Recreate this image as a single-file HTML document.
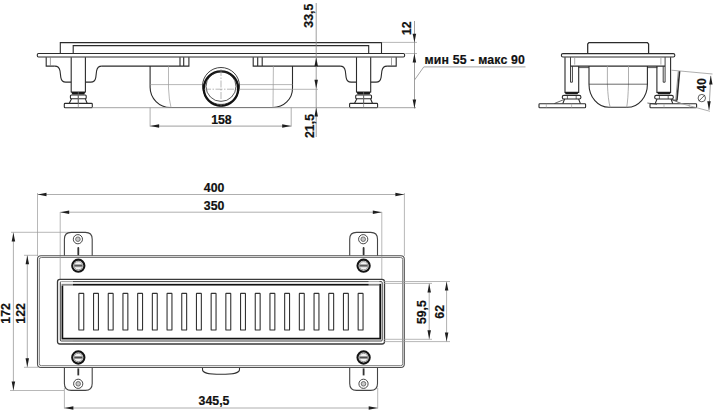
<!DOCTYPE html>
<html><head><meta charset="utf-8"><style>
html,body{margin:0;padding:0;background:#fff;width:714px;height:411px;overflow:hidden}
svg{display:block;font-family:"Liberation Sans",sans-serif}
</style></head><body>
<svg width="714" height="411" viewBox="0 0 714 411">
<rect width="714" height="411" fill="#fff"/>
<path d="M60.3,53.4 V42.6 H381.5 V53.4" fill="none" stroke="#2b2b2b" stroke-width="1.1"/>
<path d="M73.2,53.4 V45.6 H368.7 V53.4" fill="none" stroke="#2b2b2b" stroke-width="1.1"/>
<rect x="37.3" y="53.5" width="367.3" height="3.5" rx="1.2" fill="none" stroke="#2b2b2b" stroke-width="1.1"/>
<path d="M71.2,82.1 H65.8 C62.8,82.1 61.3,80.3 60.8,77.3 L60.0,70.8 C59.5,67.8 57.8,66.1 54.8,66.1" fill="none" stroke="#2b2b2b" stroke-width="1.1"/>
<path d="M85.4,82.1 H90.8 C93.8,82.1 95.3,80.3 95.8,77.3 L96.6,70.8 C97.1,67.8 98.8,66.1 101.8,66.1" fill="none" stroke="#2b2b2b" stroke-width="1.1"/>
<path d="M71.2,57.2 V92 H85.39999999999999 V57.2" fill="none" stroke="#2b2b2b" stroke-width="1.1"/>
<path d="M71.3,92 H85.3 L84.3,94.5 H72.3 Z" fill="#1a1a1a"/>
<rect x="70.39999999999999" y="95" width="15.8" height="3.8" rx="1" fill="none" stroke="#2b2b2b" stroke-width="1.1"/>
<path d="M71.5,98.8 L69.3,103.3 M85.3,98.8 L87.1,103.3" fill="none" stroke="#2b2b2b" stroke-width="1.1"/>
<line x1="78.3" y1="95" x2="78.3" y2="103.2" stroke="#444" stroke-width="0.9"/>
<rect x="64.3" y="103.4" width="28" height="4.4" rx="0.8" fill="none" stroke="#2b2b2b" stroke-width="1.1"/>
<line x1="78.3" y1="92" x2="78.3" y2="107.8" stroke="#777" stroke-width="0.7"/>
<path d="M356.5,82.1 H351.1 C348.1,82.1 346.6,80.3 346.1,77.3 L345.3,70.8 C344.8,67.8 343.1,66.1 340.1,66.1" fill="none" stroke="#2b2b2b" stroke-width="1.1"/>
<path d="M370.7,82.1 H376.1 C379.1,82.1 380.6,80.3 381.1,77.3 L381.9,70.8 C382.4,67.8 384.1,66.1 387.1,66.1" fill="none" stroke="#2b2b2b" stroke-width="1.1"/>
<path d="M356.5,57.2 V92 H370.70000000000005 V57.2" fill="none" stroke="#2b2b2b" stroke-width="1.1"/>
<path d="M356.6,92 H370.6 L369.6,94.5 H357.6 Z" fill="#1a1a1a"/>
<rect x="355.70000000000005" y="95" width="15.8" height="3.8" rx="1" fill="none" stroke="#2b2b2b" stroke-width="1.1"/>
<path d="M356.8,98.8 L354.6,103.3 M370.6,98.8 L372.40000000000003,103.3" fill="none" stroke="#2b2b2b" stroke-width="1.1"/>
<line x1="363.6" y1="95" x2="363.6" y2="103.2" stroke="#444" stroke-width="0.9"/>
<rect x="349.6" y="103.4" width="28" height="4.4" rx="0.8" fill="none" stroke="#2b2b2b" stroke-width="1.1"/>
<line x1="363.6" y1="92" x2="363.6" y2="107.8" stroke="#777" stroke-width="0.7"/>
<path d="M54.8,66.1 H46.2 V57.2" fill="none" stroke="#2b2b2b" stroke-width="1.1"/>
<line x1="50.4" y1="57.2" x2="50.4" y2="65.8" stroke="#777" stroke-width="0.7"/>
<path d="M387.1,66.1 H396.2 V57.2" fill="none" stroke="#2b2b2b" stroke-width="1.1"/>
<line x1="391.5" y1="57.2" x2="391.5" y2="65.8" stroke="#777" stroke-width="0.7"/>
<path d="M101.8,66.1 H188.9 V57.2 M183.7,57.2 V66.1 M180,57.2 V66.1" fill="none" stroke="#2b2b2b" stroke-width="1.1"/>
<path d="M340.1,66.1 H253.2 V57.2 M257.7,57.2 V66.1 M262.2,57.2 V66.1" fill="none" stroke="#2b2b2b" stroke-width="1.1"/>
<path d="M150.1,66.1 V87.3 A20.3 20.2 0 0 0 170.4,107.5 H273 A19.5 19 0 0 0 292.5,88.5 V66.1" fill="none" stroke="#2b2b2b" stroke-width="1.1"/>
<path d="M168.5,66.1 V88 Q169,100 171,107.5" fill="none" stroke="#9a9a9a" stroke-width="0.7"/>
<line x1="273.4" y1="65.8" x2="273" y2="107.5" stroke="#9a9a9a" stroke-width="0.7"/>
<line x1="150.1" y1="84.6" x2="292.5" y2="84.6" stroke="#9a9a9a" stroke-width="0.7"/>
<line x1="92" y1="107.7" x2="350" y2="107.7" stroke="#9a9a9a" stroke-width="0.9"/>
<line x1="377.4" y1="107.7" x2="416" y2="107.7" stroke="#9a9a9a" stroke-width="0.9"/>
<circle cx="221" cy="86" r="18.5" fill="#fff" stroke="#2b2b2b" stroke-width="0.9"/>
<circle cx="221" cy="88.6" r="17.2" fill="none" stroke="#111" stroke-width="2.3"/>
<circle cx="221" cy="86.4" r="15" fill="none" stroke="#2b2b2b" stroke-width="0.8"/>
<path d="M221,69 V107 M204,89.2 H238" stroke="#888" stroke-width="0.6" stroke-dasharray="7 1.5 1.5 1.5"/>
<line x1="150.1" y1="107.5" x2="150.1" y2="126.6" stroke="#9a9a9a" stroke-width="0.8"/>
<line x1="291.2" y1="107.5" x2="291.2" y2="126.6" stroke="#9a9a9a" stroke-width="0.8"/>
<line x1="150.1" y1="126.1" x2="291.2" y2="126.1" stroke="#858585" stroke-width="0.8"/>
<polygon points="150.3,126.1 159.10000000000002,124.35 159.10000000000002,127.85" fill="#1e1e1e"/>
<polygon points="291,126.1 282.2,124.35 282.2,127.85" fill="#1e1e1e"/>
<text x="221.4" y="124" text-anchor="middle" font-size="12.3" font-weight="bold" fill="#111" stroke="#111" stroke-width="0.2">158</text>
<line x1="316.2" y1="3" x2="316.2" y2="137" stroke="#858585" stroke-width="0.8"/>
<line x1="239.5" y1="89.3" x2="318" y2="89.3" stroke="#9a9a9a" stroke-width="0.7"/>
<polygon points="316.2,57.4 314.45,66.2 317.95,66.2" fill="#1e1e1e"/>
<polygon points="316.2,88.6 314.45,79.8 317.95,79.8" fill="#1e1e1e"/>
<polygon points="316.2,107.8 314.45,116.6 317.95,116.6" fill="#1e1e1e"/>
<text x="0" y="0" transform="translate(313.2,15.7) rotate(-90)" text-anchor="middle" font-size="12.3" font-weight="bold" fill="#111" stroke="#111" stroke-width="0.2">33,5</text>
<text x="0" y="0" transform="translate(313.8,126) rotate(-90)" text-anchor="middle" font-size="12.3" font-weight="bold" fill="#111" stroke="#111" stroke-width="0.2">21,5</text>
<line x1="381.7" y1="42.4" x2="417" y2="42.4" stroke="#9a9a9a" stroke-width="0.7"/>
<line x1="405.3" y1="53.5" x2="417" y2="53.5" stroke="#9a9a9a" stroke-width="0.7"/>
<line x1="414.5" y1="21" x2="414.5" y2="108.5" stroke="#858585" stroke-width="0.8"/>
<polygon points="414.4,42.6 412.65,33.8 416.15,33.8" fill="#1e1e1e"/>
<polygon points="414.4,53.6 412.65,62.400000000000006 416.15,62.400000000000006" fill="#1e1e1e"/>
<polygon points="414.4,108.3 412.65,99.5 416.15,99.5" fill="#1e1e1e"/>
<text x="0" y="0" transform="translate(411.2,28.2) rotate(-90)" text-anchor="middle" font-size="12.3" font-weight="bold" fill="#111" stroke="#111" stroke-width="0.2">12</text>
<path d="M414.5,80 L423.8,66.9 H525.5" fill="none" stroke="#9a9a9a" stroke-width="0.9"/>
<text x="474.7" y="63.8" text-anchor="middle" font-size="12.3" font-weight="bold" fill="#111" stroke="#111" stroke-width="0.2" textLength="100.3" lengthAdjust="spacing">мин 55 - макс 90</text>
<path d="M587.7,53.6 V44 L588.9,42.6 H647.4 L648.6,44 V53.6" fill="none" stroke="#2b2b2b" stroke-width="1.25"/>
<rect x="561.4" y="53.6" width="113.4" height="3.4" rx="1.5" fill="none" stroke="#2b2b2b" stroke-width="1.1"/>
<path d="M570.5,66.1 H665.1" fill="none" stroke="#2b2b2b" stroke-width="1.1"/>
<path d="M589,66 V84.2 A20 23 0 0 0 609.2,107.3 H627.4 A20 23 0 0 0 647.4,84.2 V66" fill="none" stroke="#2b2b2b" stroke-width="1.1"/>
<path d="M607.4,66 V84 Q608,100 610.2,107.3 M628.5,66 V84 Q628,100 626.7,107.3" fill="none" stroke="#9a9a9a" stroke-width="0.8"/>
<line x1="589" y1="84.2" x2="647.4" y2="84.2" stroke="#2b2b2b" stroke-width="0.7"/>
<path d="M565,57.2 V92.4 H578.7 V66.1" fill="none" stroke="#2b2b2b" stroke-width="1.1"/>
<path d="M570.5,57.2 V82.2 H572.4 V66.1" fill="none" stroke="#2b2b2b" stroke-width="0.9"/>
<line x1="574.7" y1="57.3" x2="574.7" y2="64.6" stroke="#9a9a9a" stroke-width="0.8"/>
<path d="M564.8000000000001,92.2 H578.4 L577.6,94.3 H565.6 Z" fill="#1a1a1a"/>
<rect x="562.3000000000001" y="95.4" width="18.6" height="3.6" rx="1.6" fill="none" stroke="#2b2b2b" stroke-width="1.1"/>
<path d="M564.6,99 L562.8000000000001,103.6 M578.6,99 L580.4,103.6" fill="none" stroke="#2b2b2b" stroke-width="1.1"/>
<rect x="539" y="103.7" width="46.6" height="4" rx="0.8" fill="none" stroke="#2b2b2b" stroke-width="1.1"/>
<line x1="554.4" y1="103.5" x2="563.6" y2="99.7" stroke="#2b2b2b" stroke-width="0.7"/>
<line x1="571.6" y1="103.7" x2="571.6" y2="107.7" stroke="#9a9a9a" stroke-width="0.6"/>
<line x1="546.3" y1="103.7" x2="546.3" y2="107.7" stroke="#9a9a9a" stroke-width="0.6"/>
<line x1="567.4" y1="95.4" x2="567.4" y2="99" stroke="#2b2b2b" stroke-width="0.7"/>
<line x1="576.2" y1="95.4" x2="576.2" y2="99" stroke="#2b2b2b" stroke-width="0.7"/>
<path d="M670.5999999999999,57.2 V92.4 H656.8999999999999 V66.1" fill="none" stroke="#2b2b2b" stroke-width="1.1"/>
<path d="M665.0999999999999,57.2 V82.2 H663.1999999999999 V66.1" fill="none" stroke="#2b2b2b" stroke-width="0.9"/>
<line x1="660.8999999999999" y1="57.3" x2="660.8999999999999" y2="64.6" stroke="#9a9a9a" stroke-width="0.8"/>
<path d="M657.1999999999999,92.2 H670.7999999999998 L669.9999999999999,94.3 H657.9999999999999 Z" fill="#1a1a1a"/>
<rect x="654.6999999999999" y="95.4" width="18.6" height="3.6" rx="1.6" fill="none" stroke="#2b2b2b" stroke-width="1.1"/>
<path d="M656.9999999999999,99 L655.1999999999999,103.6 M670.9999999999999,99 L672.7999999999998,103.6" fill="none" stroke="#2b2b2b" stroke-width="1.1"/>
<rect x="649.9999999999999" y="103.7" width="46.6" height="4" rx="0.8" fill="none" stroke="#2b2b2b" stroke-width="1.1"/>
<line x1="681.1999999999999" y1="103.5" x2="671.9999999999999" y2="99.7" stroke="#2b2b2b" stroke-width="0.7"/>
<line x1="663.9999999999999" y1="103.7" x2="663.9999999999999" y2="107.7" stroke="#9a9a9a" stroke-width="0.6"/>
<line x1="689.3" y1="103.7" x2="689.3" y2="107.7" stroke="#9a9a9a" stroke-width="0.6"/>
<line x1="668.1999999999999" y1="95.4" x2="668.1999999999999" y2="99" stroke="#2b2b2b" stroke-width="0.7"/>
<line x1="659.3999999999999" y1="95.4" x2="659.3999999999999" y2="99" stroke="#2b2b2b" stroke-width="0.7"/>
<line x1="671.4" y1="70.2" x2="712.5" y2="74" stroke="#9a9a9a" stroke-width="0.8"/>
<line x1="647" y1="67.6" x2="657.4" y2="67.6" stroke="#2b2b2b" stroke-width="0.8"/>
<line x1="578.6" y1="67.6" x2="589" y2="67.6" stroke="#2b2b2b" stroke-width="0.8"/>
<path d="M679.6,71.3 L676.9,100.5" stroke="#2b2b2b" stroke-width="1.6" fill="none"/>
<path d="M678.3,71.3 L675.7,100.5" stroke="#777" stroke-width="0.8" fill="none"/>
<line x1="647.4" y1="103" x2="657" y2="104.4" stroke="#2b2b2b" stroke-width="0.7"/>
<line x1="671.5" y1="99.5" x2="677" y2="100.5" stroke="#2b2b2b" stroke-width="0.8"/>
<line x1="678.4" y1="102.8" x2="710" y2="111.3" stroke="#9a9a9a" stroke-width="0.8"/>
<line x1="710.8" y1="75.8" x2="709" y2="110" stroke="#858585" stroke-width="0.8"/>
<polygon points="710.8,75.8 709.05,84.6 712.55,84.6" fill="#1e1e1e"/>
<polygon points="709,110 707.25,101.2 710.75,101.2" fill="#1e1e1e"/>
<text x="0" y="0" transform="translate(706.1,85.1) rotate(-90)" text-anchor="middle" font-size="12.3" font-weight="bold" fill="#111" stroke="#111" stroke-width="0.2">40</text>
<circle cx="701.8" cy="98.1" r="3.7" fill="none" stroke="#333" stroke-width="0.8"/>
<line x1="698.8" y1="101.1" x2="704.8" y2="95.1" stroke="#333" stroke-width="0.8"/>
<line x1="37.5" y1="194.5" x2="404.4" y2="194.5" stroke="#9a9a9a" stroke-width="0.8"/>
<polygon points="37.7,194.5 46.5,192.75 46.5,196.25" fill="#1e1e1e"/>
<polygon points="404.2,194.5 395.4,192.75 395.4,196.25" fill="#1e1e1e"/>
<line x1="37.5" y1="193" x2="37.5" y2="256" stroke="#9a9a9a" stroke-width="0.7"/>
<line x1="404.4" y1="193" x2="404.4" y2="256" stroke="#9a9a9a" stroke-width="0.7"/>
<text x="214.1" y="191.8" text-anchor="middle" font-size="12.3" font-weight="bold" fill="#111" stroke="#111" stroke-width="0.2">400</text>
<line x1="60.2" y1="212.2" x2="381.8" y2="212.2" stroke="#9a9a9a" stroke-width="0.8"/>
<polygon points="60.4,212.2 69.2,210.45 69.2,213.95" fill="#1e1e1e"/>
<polygon points="381.6,212.2 372.8,210.45 372.8,213.95" fill="#1e1e1e"/>
<line x1="60.2" y1="212" x2="60.2" y2="280" stroke="#9a9a9a" stroke-width="0.7"/>
<line x1="381.8" y1="212" x2="381.8" y2="280" stroke="#9a9a9a" stroke-width="0.7"/>
<text x="214.1" y="209.8" text-anchor="middle" font-size="12.3" font-weight="bold" fill="#111" stroke="#111" stroke-width="0.2">350</text>
<line x1="11" y1="232.3" x2="70" y2="232.3" stroke="#9a9a9a" stroke-width="0.7"/>
<line x1="10" y1="390.5" x2="64" y2="390.5" stroke="#9a9a9a" stroke-width="0.7"/>
<line x1="13.4" y1="232.5" x2="13.4" y2="390.5" stroke="#9a9a9a" stroke-width="0.8"/>
<polygon points="13.4,232.7 11.65,241.5 15.15,241.5" fill="#1e1e1e"/>
<polygon points="13.4,390.3 11.65,381.5 15.15,381.5" fill="#1e1e1e"/>
<text x="0" y="0" transform="translate(10.4,313.4) rotate(-90)" text-anchor="middle" font-size="12.3" font-weight="bold" fill="#111" stroke="#111" stroke-width="0.2">172</text>
<line x1="24" y1="255.3" x2="38" y2="255.3" stroke="#9a9a9a" stroke-width="0.7"/>
<line x1="24" y1="367.3" x2="38" y2="367.3" stroke="#9a9a9a" stroke-width="0.7"/>
<line x1="27.3" y1="255.3" x2="27.3" y2="367.3" stroke="#9a9a9a" stroke-width="0.8"/>
<polygon points="27.3,255.5 25.55,264.3 29.05,264.3" fill="#1e1e1e"/>
<polygon points="27.3,367.1 25.55,358.3 29.05,358.3" fill="#1e1e1e"/>
<text x="0" y="0" transform="translate(24.6,313.4) rotate(-90)" text-anchor="middle" font-size="12.3" font-weight="bold" fill="#111" stroke="#111" stroke-width="0.2">122</text>
<line x1="64.4" y1="388" x2="64.4" y2="408.6" stroke="#9a9a9a" stroke-width="0.7"/>
<line x1="377.7" y1="388" x2="377.7" y2="408.6" stroke="#9a9a9a" stroke-width="0.7"/>
<line x1="64.4" y1="408" x2="377.7" y2="408" stroke="#9a9a9a" stroke-width="0.8"/>
<polygon points="64.6,408 73.39999999999999,406.25 73.39999999999999,409.75" fill="#1e1e1e"/>
<polygon points="377.5,408 368.7,406.25 368.7,409.75" fill="#1e1e1e"/>
<text x="214" y="405.2" text-anchor="middle" font-size="12.3" font-weight="bold" fill="#111" stroke="#111" stroke-width="0.2">345,5</text>
<path d="M64.39999999999999,256 V239.2 Q64.39999999999999,232.4 71.2,232.4 H85.39999999999999 Q92.2,232.4 92.2,239.2 V256" fill="#fff" stroke="#444" stroke-width="1.1"/>
<path d="M64.39999999999999,366.5 V383.5 Q64.39999999999999,390.4 71.2,390.4 H85.39999999999999 Q92.2,390.4 92.2,383.5 V366.5" fill="#fff" stroke="#444" stroke-width="1.1"/>
<circle cx="77.89999999999999" cy="239.2" r="4.6" fill="none" stroke="#333" stroke-width="0.9"/>
<circle cx="77.89999999999999" cy="239.2" r="2.3" fill="#c8c8c8" stroke="#555" stroke-width="0.8"/>
<circle cx="78.2" cy="383.8" r="4.6" fill="none" stroke="#333" stroke-width="0.9"/>
<circle cx="78.2" cy="383.8" r="2.3" fill="#c8c8c8" stroke="#555" stroke-width="0.8"/>
<rect x="77.39999999999999" y="247" width="1.8" height="8.5" rx="0.9" fill="#333"/>
<rect x="77.39999999999999" y="368.4" width="1.8" height="7" fill="#333"/>
<path d="M349.70000000000005,256 V239.2 Q349.70000000000005,232.4 356.5,232.4 H370.70000000000005 Q377.5,232.4 377.5,239.2 V256" fill="#fff" stroke="#444" stroke-width="1.1"/>
<path d="M349.70000000000005,366.5 V383.5 Q349.70000000000005,390.4 356.5,390.4 H370.70000000000005 Q377.5,390.4 377.5,383.5 V366.5" fill="#fff" stroke="#444" stroke-width="1.1"/>
<circle cx="363.20000000000005" cy="239.2" r="4.6" fill="none" stroke="#333" stroke-width="0.9"/>
<circle cx="363.20000000000005" cy="239.2" r="2.3" fill="#c8c8c8" stroke="#555" stroke-width="0.8"/>
<circle cx="363.5" cy="383.8" r="4.6" fill="none" stroke="#333" stroke-width="0.9"/>
<circle cx="363.5" cy="383.8" r="2.3" fill="#c8c8c8" stroke="#555" stroke-width="0.8"/>
<rect x="362.70000000000005" y="247" width="1.8" height="8.5" rx="0.9" fill="#333"/>
<rect x="362.70000000000005" y="368.4" width="1.8" height="7" fill="#333"/>
<rect x="37.5" y="255.7" width="366.8" height="111.8" rx="3.5" fill="#fff" stroke="#505050" stroke-width="1.1"/>
<rect x="39.3" y="257.5" width="363.4" height="108.2" rx="2" fill="none" stroke="#6a6a6a" stroke-width="0.9"/>
<line x1="60.2" y1="256" x2="60.2" y2="280" stroke="#9a9a9a" stroke-width="0.7"/>
<line x1="381.8" y1="256" x2="381.8" y2="280" stroke="#9a9a9a" stroke-width="0.7"/>
<path d="M202.5,368 V369.5 C202.5,373 207,374.3 221,374.3 C235,374.3 239.5,373 239.5,369.5 V368" fill="none" stroke="#333" stroke-width="1.1"/>
<circle cx="78.3" cy="265.7" r="6.1" fill="#fff" stroke="#141414" stroke-width="2.1"/>
<circle cx="78.3" cy="265.7" r="4.1" fill="#f4f4f4" stroke="#8a8a8a" stroke-width="0.9"/>
<rect x="74.39999999999999" y="264.2" width="7.8" height="3" fill="#9a9a9a"/>
<rect x="74.39999999999999" y="265.25" width="7.8" height="0.9" fill="#444"/>
<circle cx="78.3" cy="357.5" r="6.1" fill="#fff" stroke="#141414" stroke-width="2.1"/>
<circle cx="78.3" cy="357.5" r="4.1" fill="#f4f4f4" stroke="#8a8a8a" stroke-width="0.9"/>
<rect x="74.39999999999999" y="356.0" width="7.8" height="3" fill="#9a9a9a"/>
<rect x="74.39999999999999" y="357.05" width="7.8" height="0.9" fill="#444"/>
<circle cx="363.6" cy="265.7" r="6.1" fill="#fff" stroke="#141414" stroke-width="2.1"/>
<circle cx="363.6" cy="265.7" r="4.1" fill="#f4f4f4" stroke="#8a8a8a" stroke-width="0.9"/>
<rect x="359.70000000000005" y="264.2" width="7.8" height="3" fill="#9a9a9a"/>
<rect x="359.70000000000005" y="265.25" width="7.8" height="0.9" fill="#444"/>
<circle cx="363.6" cy="357.5" r="6.1" fill="#fff" stroke="#141414" stroke-width="2.1"/>
<circle cx="363.6" cy="357.5" r="4.1" fill="#f4f4f4" stroke="#8a8a8a" stroke-width="0.9"/>
<rect x="359.70000000000005" y="356.0" width="7.8" height="3" fill="#9a9a9a"/>
<rect x="359.70000000000005" y="357.05" width="7.8" height="0.9" fill="#444"/>
<rect x="57.5" y="279.3" width="327" height="64.7" rx="2.5" fill="#fff" stroke="#3a3a3a" stroke-width="1.3"/>
<rect x="60.3" y="281.6" width="321.9" height="59.4" rx="1" fill="none" stroke="#2a2a2a" stroke-width="0.9"/>
<rect x="62.4" y="284.7" width="317.8" height="53.9" fill="none" stroke="#111" stroke-width="1.7"/>
<rect x="61" y="280.9" width="12" height="4.9" fill="#fff" opacity="0.5"/>
<rect x="368.5" y="280.9" width="11" height="4.9" fill="#fff" opacity="0.5"/>
<rect x="61" y="339.7" width="12" height="2.3" fill="#aaa" opacity="0.5"/>
<rect x="368.5" y="339.7" width="12.5" height="2.3" fill="#aaa" opacity="0.5"/>
<rect x="78.85" y="293.35" width="4.9" height="36.6" rx="0.3" fill="none" stroke="#333" stroke-width="1.1"/>
<rect x="93.55" y="293.35" width="4.9" height="36.6" rx="0.3" fill="none" stroke="#333" stroke-width="1.1"/>
<rect x="108.25" y="293.35" width="4.9" height="36.6" rx="0.3" fill="none" stroke="#333" stroke-width="1.1"/>
<rect x="122.95" y="293.35" width="4.9" height="36.6" rx="0.3" fill="none" stroke="#333" stroke-width="1.1"/>
<rect x="137.65" y="293.35" width="4.9" height="36.6" rx="0.3" fill="none" stroke="#333" stroke-width="1.1"/>
<rect x="152.35" y="293.35" width="4.9" height="36.6" rx="0.3" fill="none" stroke="#333" stroke-width="1.1"/>
<rect x="167.05" y="293.35" width="4.9" height="36.6" rx="0.3" fill="none" stroke="#333" stroke-width="1.1"/>
<rect x="181.75" y="293.35" width="4.9" height="36.6" rx="0.3" fill="none" stroke="#333" stroke-width="1.1"/>
<rect x="196.45" y="293.35" width="4.9" height="36.6" rx="0.3" fill="none" stroke="#333" stroke-width="1.1"/>
<rect x="211.15" y="293.35" width="4.9" height="36.6" rx="0.3" fill="none" stroke="#333" stroke-width="1.1"/>
<rect x="225.85" y="293.35" width="4.9" height="36.6" rx="0.3" fill="none" stroke="#333" stroke-width="1.1"/>
<rect x="240.55" y="293.35" width="4.9" height="36.6" rx="0.3" fill="none" stroke="#333" stroke-width="1.1"/>
<rect x="255.25" y="293.35" width="4.9" height="36.6" rx="0.3" fill="none" stroke="#333" stroke-width="1.1"/>
<rect x="269.95" y="293.35" width="4.9" height="36.6" rx="0.3" fill="none" stroke="#333" stroke-width="1.1"/>
<rect x="284.65" y="293.35" width="4.9" height="36.6" rx="0.3" fill="none" stroke="#333" stroke-width="1.1"/>
<rect x="299.35" y="293.35" width="4.9" height="36.6" rx="0.3" fill="none" stroke="#333" stroke-width="1.1"/>
<rect x="314.05" y="293.35" width="4.9" height="36.6" rx="0.3" fill="none" stroke="#333" stroke-width="1.1"/>
<rect x="328.75" y="293.35" width="4.9" height="36.6" rx="0.3" fill="none" stroke="#333" stroke-width="1.1"/>
<rect x="343.45" y="293.35" width="4.9" height="36.6" rx="0.3" fill="none" stroke="#333" stroke-width="1.1"/>
<rect x="358.15" y="293.35" width="4.9" height="36.6" rx="0.3" fill="none" stroke="#333" stroke-width="1.1"/>
<line x1="384" y1="283.4" x2="432" y2="283.4" stroke="#9a9a9a" stroke-width="0.7"/>
<line x1="384" y1="339.3" x2="432" y2="339.3" stroke="#9a9a9a" stroke-width="0.7"/>
<line x1="429.2" y1="283.4" x2="429.2" y2="339.3" stroke="#9a9a9a" stroke-width="0.8"/>
<polygon points="429.2,283.8 427.45,292.6 430.95,292.6" fill="#1e1e1e"/>
<polygon points="429.2,339.1 427.45,330.3 430.95,330.3" fill="#1e1e1e"/>
<text x="0" y="0" transform="translate(426.3,312.1) rotate(-90)" text-anchor="middle" font-size="12.3" font-weight="bold" fill="#111" stroke="#111" stroke-width="0.2">59,5</text>
<line x1="384" y1="281.5" x2="450" y2="281.5" stroke="#9a9a9a" stroke-width="0.7"/>
<line x1="384" y1="341.6" x2="450" y2="341.6" stroke="#9a9a9a" stroke-width="0.7"/>
<line x1="446.6" y1="281.5" x2="446.6" y2="341.6" stroke="#9a9a9a" stroke-width="0.8"/>
<polygon points="446.6,281.7 444.85,290.5 448.35,290.5" fill="#1e1e1e"/>
<polygon points="446.6,341.4 444.85,332.59999999999997 448.35,332.59999999999997" fill="#1e1e1e"/>
<text x="0" y="0" transform="translate(444.2,311.8) rotate(-90)" text-anchor="middle" font-size="12.3" font-weight="bold" fill="#111" stroke="#111" stroke-width="0.2">62</text>
</svg></body></html>
